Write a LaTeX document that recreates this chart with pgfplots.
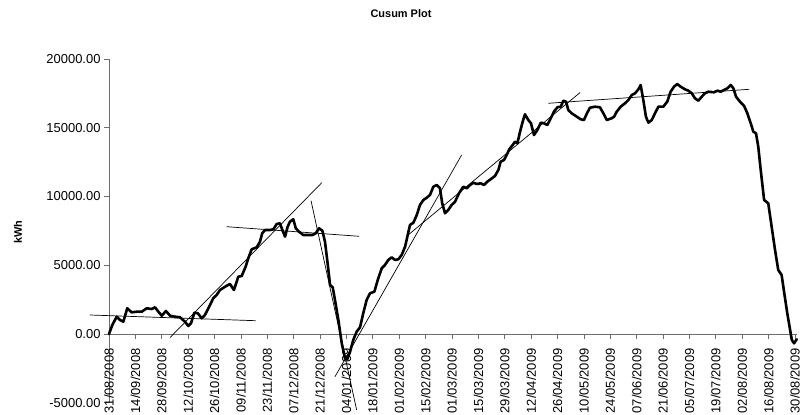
\documentclass[border=0pt]{standalone}
\usepackage{fontspec}
\setmainfont{Liberation Sans}
\usepackage{pgfplots}
\pgfplotsset{compat=1.18}
\begin{document}
\begin{tikzpicture}
\path[use as bounding box] (0,0) rectangle (801bp,415bp);
\begin{axis}[
  at={(109bp,12.25bp)}, anchor=south west,
  scale only axis, width=687.9bp, height=343.75bp,
  xmin=0, xmax=365, ymin=-5000, ymax=20000,
  clip=false,
  axis x line=middle, axis y line=left,
  axis line style={draw=gray!85!black, line width=0.8bp, -},
  every inner x axis line/.append style={-},
  every outer y axis line/.append style={-},
  every outer x axis line/.append style={-},
  hide obscured x ticks=false, hide obscured y ticks=false,
  scaled y ticks=false,
  xtick={0,14,...,364},
  xticklabels={31/08/2008,14/09/2008,28/09/2008,12/10/2008,26/10/2008,09/11/2008,23/11/2008,07/12/2008,21/12/2008,04/01/2009,18/01/2009,01/02/2009,15/02/2009,01/03/2009,15/03/2009,29/03/2009,12/04/2009,26/04/2009,10/05/2009,24/05/2009,07/06/2009,21/06/2009,05/07/2009,19/07/2009,02/08/2009,16/08/2009,30/08/2009},
  ytick={-5000,0,5000,10000,15000,20000},
  tick align=outside,
  major tick length=5bp,
  tick style={draw=gray!85!black, line width=0.8bp},
  xticklabel style={yshift=-6bp, rotate=90, anchor=east, font=\fontsize{13}{15}\selectfont, text=black},
  yticklabel style={anchor=east, font=\fontsize{13}{15}\selectfont, text=black},
  y tick label style={/pgf/number format/fixed, /pgf/number format/fixed zerofill, /pgf/number format/precision=2, /pgf/number format/1000 sep={}},
  /pgf/number format/assume math mode=true,
]
% cusum data
\addplot[black, line width=2.6bp, line join=round, line cap=round] coordinates {
(0,0) (1.75,655) (4.1,1258) (5.8,1018) (7.6,895) (9.7,1869) (12.0,1578) (14.7,1622)
(17.4,1622) (20.0,1869) (22.7,1818) (24.4,1942) (26.2,1622) (28.0,1331) (30.2,1673)
(32.4,1331) (35.0,1258) (37.7,1215) (40.3,895) (42.1,582) (43.5,778) (45.3,1549)
(47.1,1506) (49.2,1142) (50.9,1382) (53.6,2109) (55.3,2596) (57.1,2836) (58.9,3200)
(61.6,3440) (64.2,3636) (66.3,3200) (68.6,4167) (70.4,4218) (72.5,4895) (73.9,5506)
(75.7,6160) (78.4,6306) (80.1,6713) (81.3,7324) (82.8,7564) (85.4,7564) (87.2,7615)
(89.0,8000) (90.7,8051) (92.0,7564) (93.4,7077) (94.8,7804) (96.0,8167) (97.8,8342)
(99.1,7688) (100.8,7440) (103.1,7200) (105.8,7200) (107.9,7200) (109.7,7324) (111.4,7688)
(113.2,7513) (114.6,6713) (116.0,5142) (117.3,3564) (118.7,3396) (119.9,2473) (121.7,1018)
(123.5,-676) (125.2,-1767) (126.4,-1840) (127.9,-1287) (129.6,-436) (131.4,167) (133.2,487)
(134.9,1506) (136.7,2473) (138.5,2960) (140.8,3076) (142.6,3927) (144.7,4778) (146.4,5018)
(148.2,5382) (150.0,5578) (151.8,5382) (153.5,5433) (155.3,5746) (157.1,6349) (158.5,7200)
(159.7,7927) (161.5,8095) (163.3,8655) (165.0,9382) (166.8,9746) (168.6,9913) (170.3,10109)
(172.1,10713) (173.9,10837) (175.6,10597) (176.8,9506) (178.3,8778) (180.0,9018) (181.8,9382)
(183.6,9622) (185.7,10233) (188.0,10713) (189.8,10597) (191.6,10837) (193.3,11004) (195.1,10909)
(197.2,10960) (199.0,10837) (200.7,11077) (202.5,11251) (204.8,11491) (206.6,11927) (207.8,12531)
(209.6,12655) (211.0,13018) (212.4,13433) (214.2,13746) (215.4,13986) (216.7,13869) (218.1,14713)
(219.5,15440) (220.7,15978) (222.5,15564) (223.9,15324) (225.5,14473) (227.3,14837) (229.1,15368)
(230.8,15324) (232.6,15200) (234.4,15688) (236.1,16168) (237.9,16488) (239.7,16531) (241.1,16968)
(242.5,16895) (243.7,16291) (245.5,16051) (248.2,15804) (250.3,15615) (252.0,15564) (253.6,16051)
(255.2,16458) (257.9,16531) (260.5,16488) (262.3,16051) (264.1,15564) (266.7,15688) (268.0,15804)
(269.4,16168) (271.5,16531) (273.8,16779) (275.6,17018) (277.4,17382) (279.1,17506) (280.9,17797)
(282.1,18109) (283.5,17018) (284.9,15804) (286.2,15368) (288.0,15564) (289.7,16051) (291.5,16531)
(294.1,16531) (296.2,16895) (298.0,17622) (299.8,17986) (301.5,18182) (303.3,17986) (305.6,17797)
(307.4,17695) (309.2,17506) (310.9,17142) (312.7,16968) (314.5,17259) (316.2,17506) (318.0,17622)
(321.0,17579) (322.8,17695) (324.6,17622) (326.3,17746) (328.1,17869) (329.9,18109) (331.3,17869)
(332.7,17259) (334.8,16895) (337.0,16582) (338.7,16051) (340.5,15324) (341.9,14713) (343.3,14597)
(344.5,13622) (345.8,11928) (347.6,9746) (349.8,9506) (351.6,7804) (353.4,6109) (355.1,4655)
(356.9,4291) (358.3,2960) (359.9,1506) (361.4,291) (362.3,-436) (363.5,-676) (364.9,-385)
};
% trend lines
\addplot[black, line width=0.7bp] coordinates {(-10.1,1382) (77.8,967)};
\addplot[black, line width=0.7bp] coordinates {(32.4,-255) (112.9,11004)};
\addplot[black, line width=0.7bp] coordinates {(62.4,7804) (132.7,7106)};
\addplot[black, line width=0.7bp] coordinates {(107.2,9695) (131.4,-5527)};
\addplot[black, line width=0.7bp] coordinates {(119.9,-3105) (187.1,13018)};
\addplot[black, line width=0.7bp] coordinates {(158.7,7200) (250,17564)};
\addplot[black, line width=0.7bp] coordinates {(233.1,16779) (339.8,17797)};
\end{axis}
\node[font=\fontsize{11}{13}\selectfont\bfseries] at (401bp,401bp) {Cusum Plot};
\node[font=\fontsize{11}{13}\selectfont\bfseries, rotate=90] at (18bp,183bp) {kWh};
\end{tikzpicture}
\end{document}
